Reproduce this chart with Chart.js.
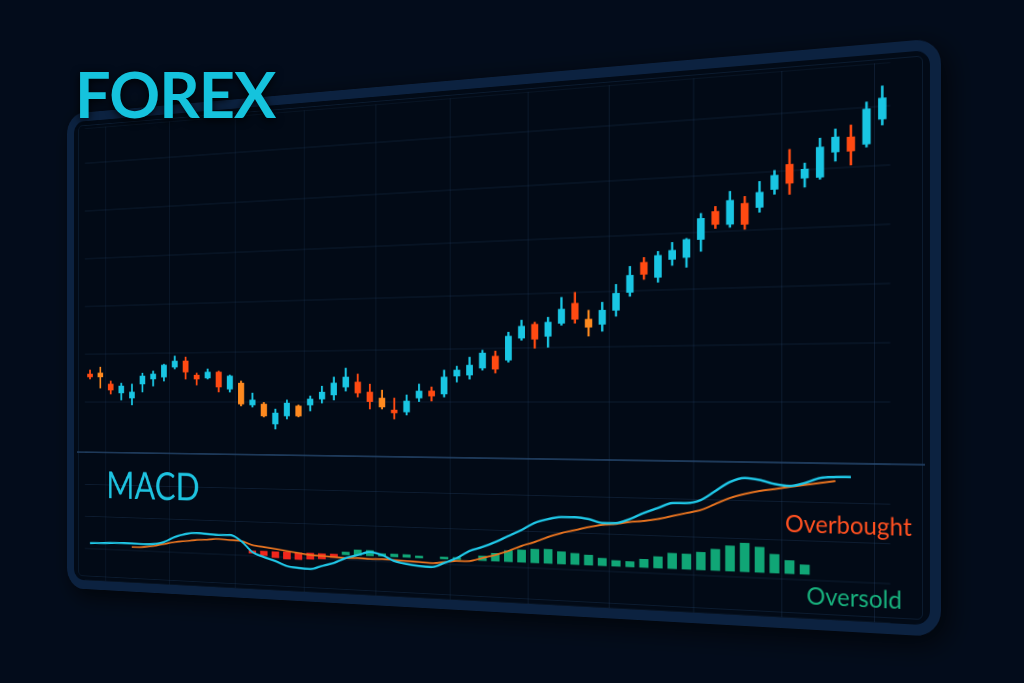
<!DOCTYPE html>
<html>
<head>
<meta charset="utf-8">
<title>FOREX MACD</title>
<script src="https://cdn.jsdelivr.net/npm/chart.js@4.4.1/dist/chart.umd.min.js"></script>
<style>
  html, body { margin: 0; padding: 0; }
  body { width: 1024px; height: 683px; overflow: hidden; background: #030c1b; position: relative; font-family: Lato, sans-serif; }
  #monitor { position: absolute; left: 0; top: 0; width: 1105px; height: 599px; transform-origin: 0 0; }
  #bezel { position: absolute; left: 0; top: 0; right: 0; bottom: 0; border: 11px solid #0c2240; border-radius: 26px; background: #020a16; box-sizing: border-box; box-shadow: 6px 8px 30px rgba(0, 0, 0, 0.7); }
  #panel { position: absolute; left: 18px; top: 16px; right: 18px; bottom: 16px; border: 1px solid rgba(30, 60, 95, 0.35); border-radius: 6px; }
  #divider { position: absolute; left: 16px; right: 16px; top: 426px; height: 2px; background: rgba(34, 64, 100, 0.8); }
  canvas { position: absolute; }
  #priceChart { left: 10px; top: 20px; }
  #macdChart { left: 10px; top: 427px; }
  #title { position: absolute; left: 75px; top: 62px; z-index: 2; font: 700 63px Lato, sans-serif; letter-spacing: -1px; line-height: 1; color: #15c3dd; text-shadow: 0 2px 8px rgba(0, 0, 0, 0.9); }
</style>
</head>
<body>
<div id="monitor">
  <div id="bezel"></div>
  <div id="panel"></div>
  <div id="divider"></div>
  <canvas id="priceChart" width="1085" height="407"></canvas>
  <canvas id="macdChart" width="1085" height="161"></canvas>
</div>
<div id="title">FOREX</div>

<script>
// price in pips above the session base
const openP = [35.1, 36.3, 22.4, 11.2, 5.0, 22.2, 28.3, 30.7, 42.8, 50.0, 32.8, 29.1, 36.2, 15.6, 22.8, -3.6, -2.4, -26.1, -16.6, -4.7,
    -3.5, 3.5, 8.2, 17.5, 23.2, 11.6, 4.6, -9.2, -11.4, 4.6, 12.5, 9.1, 29.3, 30.3, 38.1, 51.3, 46.7, 70.9, 86.1, 72.6,
    86.6, 108.2, 90.4, 84.6, 99.5, 118.5, 150.3, 133.7, 152.4, 154.0, 172.5, 201.4, 187.1, 208.4, 203.5, 221.5, 246.6, 231.4, 231.5, 256.4,
    270.8, 262.6, 287.0];
const closeP = [31.4, 31.3, 15.0, 19.9, 12.4, 32.1, 34.5, 45.4, 50.1, 36.6, 28.0, 36.3, 18.1, 31.3, -2.4, 2.4, -16.7, -13.1, -1.2, -16.5,
    3.5, 11.7, 22.2, 29.1, 10.4, 0.0, -5.8, -12.6, 1.1, 12.5, 6.8, 28.3, 36.1, 41.6, 54.9, 36.8, 73.4, 84.2, 69.6, 88.0,
    102.0, 90.7, 81.7, 99.8, 117.8, 136.8, 137.4, 157.2, 162.0, 173.1, 194.7, 187.7, 212.3, 186.4, 219.2, 236.0, 226.9, 240.7, 262.4, 271.8,
    256.5, 298.3, 308.3];
const highP = [40.2, 43.8, 26.2, 23.6, 22.3, 35.8, 38.2, 46.5, 56.3, 54.9, 35.2, 40.0, 37.4, 32.5, 25.2, 10.8, 0.0, -8.3, 2.4, -3.5,
    7.1, 18.7, 29.2, 39.6, 32.5, 20.8, 13.8, 4.6, 8.0, 20.5, 17.0, 36.2, 40.6, 50.6, 58.2, 56.9, 77.8, 90.9, 88.4, 93.6,
    115.1, 120.2, 100.2, 108.5, 127.6, 146.5, 155.6, 161.5, 170.5, 174.2, 200.0, 206.7, 221.8, 215.7, 230.6, 241.2, 262.1, 246.9, 271.7, 280.0,
    283.0, 305.4, 320.5];
const lowP = [28.9, 17.5, 10.0, 2.5, -3.7, 12.3, 19.7, 25.8, 40.4, 28.0, 20.7, 27.9, 12.1, 12.0, -4.8, -6.0, -17.9, -32.1, -20.1, -17.7,
    -10.6, -1.2, 2.3, 12.8, 5.8, -8.1, -8.1, -19.5, -14.9, 0.0, 1.1, 5.7, 22.6, 25.8, 35.8, 32.4, 44.5, 68.7, 59.6, 60.5,
    84.4, 86.3, 71.9, 77.0, 93.0, 114.2, 132.0, 128.4, 146.0, 143.4, 159.8, 183.5, 184.0, 181.2, 198.3, 216.3, 215.5, 222.1, 229.5, 247.1,
    242.2, 259.6, 281.0];
// bearish candles with weak momentum (drawn orange)
const weakBear = [1, 14, 16, 19, 26, 42];

const macdLine = [21.0, 21.6, 22.2, 22.7, 22.7, 22.5, 23.1, 26.1, 32.8, 37.0, 38.7, 38.0, 37.3, 37.9, 31.1, 18.4, 13.1, 8.9, 3.7, 2.0,
    1.4, 5.6, 9.8, 16.1, 20.2, 24.3, 21.4, 15.1, 12.3, 10.7, 10.1, 15.3, 21.6, 30.1, 35.2, 41.3, 48.6, 55.8, 64.1, 68.8,
    71.5, 71.8, 70.1, 66.4, 66.8, 71.6, 78.6, 84.3, 90.0, 90.4, 94.0, 103.9, 113.8, 118.3, 116.5, 112.6, 110.9, 114.2, 119.7, 121.0,
    121.3, null, null];
const signalLine = [null, null, null, null, 18.3, 18.8, 20.6, 23.6, 26.6, 28.4, 30.2, 31.3, 32.5, 31.8, 31.1, 26.8, 25.0, 23.2, 21.4, 19.7,
    17.9, 17.4, 16.8, 16.1, 16.7, 16.2, 16.8, 16.3, 15.8, 15.3, 14.6, 16.4, 18.2, 18.8, 22.8, 26.8, 31.9, 38.0, 43.0, 49.0,
    53.9, 57.6, 61.4, 64.2, 65.8, 68.4, 70.0, 72.5, 76.1, 79.8, 83.4, 90.2, 96.9, 101.5, 105.0, 107.3, 109.9, 112.2, 114.6, 116.9,
    null, null, null];
const histogram = [null, null, null, null, null, null, null, null, null, null, null, null, null, null, null, -3, -5, -7, -8, -8,
    -7, -6, -4, 3, 6, 6, 3, 3, 3, 2, null, 2, 2, null, 5.1, 8.7, 12.2, 13.6, 14.9, 15.4,
    13.3, 12.0, 10.8, 7.9, 6.0, 5.5, 8.7, 12.0, 16.3, 16.1, 18.5, 22.3, 26.4, 29.8, 26.2, 19.3, 13.4, 9.5, null, null,
    null, null, null];

const labels = openP.map((_, i) => 'C' + (i + 1));

const CYAN = '#19c6e3';
const RED = '#ff4a12';
const ORANGE = '#ff8a1f';
const GRID = 'rgba(45, 85, 130, 0.24)';

// map the flat monitor panel onto the tilted screen seen in perspective
function quadMatrix(w, h, q) {
    const [x0, y0] = q[0], [x1, y1] = q[1], [x2, y2] = q[2], [x3, y3] = q[3];
    const sx = x0 - x1 + x2 - x3, sy = y0 - y1 + y2 - y3;
    const dx1 = x1 - x2, dx2 = x3 - x2, dy1 = y1 - y2, dy2 = y3 - y2;
    const det = dx1 * dy2 - dx2 * dy1;
    const g = (sx * dy2 - dx2 * sy) / det;
    const k = (dx1 * sy - sx * dy1) / det;
    const a = x1 - x0 + g * x1, b = x3 - x0 + k * x3;
    const d = y1 - y0 + g * y1, e = y3 - y0 + k * y3;
    return `matrix3d(${a / w},${d / w},0,${g / w},${b / h},${e / h},0,${k / h},0,0,1,0,${x0},${y0},0,1)`;
}
document.getElementById('monitor').style.transform =
    quadMatrix(1105, 599, [[67, 114], [941, 38], [941, 637], [67, 588]]);

function candleTone(i) {
    if (closeP[i] >= openP[i]) return CYAN;
    return weakBear.includes(i) ? ORANGE : RED;
}

const xGrid = ctx => (ctx.index % 6 === 2 ? GRID : 'transparent');
const sidePad = { left: 18.4, right: 41.4, top: 0, bottom: 0 };

new Chart(document.getElementById('priceChart').getContext('2d'), {
    type: 'bar',
    data: {
        labels: labels,
        datasets: [{
            data: lowP.map((l, i) => [l, highP[i]]),
            backgroundColor: ctx => candleTone(ctx.dataIndex),
            barThickness: 2,
            grouped: false,
            order: 2
        }, {
            data: openP.map((o, i) => [o, closeP[i]]),
            backgroundColor: ctx => candleTone(ctx.dataIndex),
            barThickness: 8,
            grouped: false,
            order: 1
        }]
    },
    options: {
        responsive: false,
        animation: false,
        devicePixelRatio: 2,
        layout: { padding: sidePad },
        plugins: { legend: { display: false }, tooltip: { enabled: false } },
        scales: {
            x: {
                offset: true,
                grid: { color: xGrid, drawTicks: false, offset: true },
                ticks: { display: false, autoSkip: false },
                border: { display: false }
            },
            y: {
                min: -63,
                max: 344,
                grid: { color: GRID, drawTicks: false },
                ticks: { display: false, stepSize: 60 },
                border: { display: false }
            }
        }
    }
});

const macdLabels = {
    id: 'macdLabels',
    afterDraw(chart) {
        const c = chart.ctx;
        c.save();
        c.textBaseline = 'alphabetic';
        c.font = '400 47px Lato';
        c.fillStyle = '#1dc3e0';
        c.fillText('MACD', 52, 57);
        c.font = '400 25px Lato';
        c.fillStyle = '#ff5020';
        c.fillText('Overbought', 933, 72);
        c.fillStyle = '#17b07c';
        c.fillText('Oversold', 956, 146);
        c.restore();
    }
};

new Chart(document.getElementById('macdChart').getContext('2d'), {
    type: 'bar',
    data: {
        labels: labels,
        datasets: [{
            type: 'bar',
            data: histogram,
            yAxisID: 'yh',
            backgroundColor: ctx => (ctx.raw >= 0 ? '#10a676' : '#f0261c'),
            barThickness: 10,
            order: 3
        }, {
            type: 'line',
            data: signalLine,
            borderColor: '#e8731f',
            borderWidth: 2,
            pointRadius: 0,
            cubicInterpolationMode: 'monotone',
            order: 2
        }, {
            type: 'line',
            data: macdLine,
            borderColor: '#1fc8e8',
            borderWidth: 2.5,
            pointRadius: 0,
            cubicInterpolationMode: 'monotone',
            order: 1
        }]
    },
    options: {
        responsive: false,
        animation: false,
        devicePixelRatio: 2,
        layout: { padding: sidePad },
        plugins: { legend: { display: false }, tooltip: { enabled: false } },
        scales: {
            x: {
                offset: true,
                grid: { color: xGrid, drawTicks: false, offset: true },
                ticks: { display: false, autoSkip: false },
                border: { display: false }
            },
            y: {
                min: -26,
                max: 135,
                grid: { color: GRID, drawTicks: false },
                ticks: { display: false, stepSize: 40 },
                border: { display: false }
            },
            yh: { display: false, min: -46, max: 115 }
        }
    },
    plugins: [macdLabels]
});
</script>
</body>
</html>
